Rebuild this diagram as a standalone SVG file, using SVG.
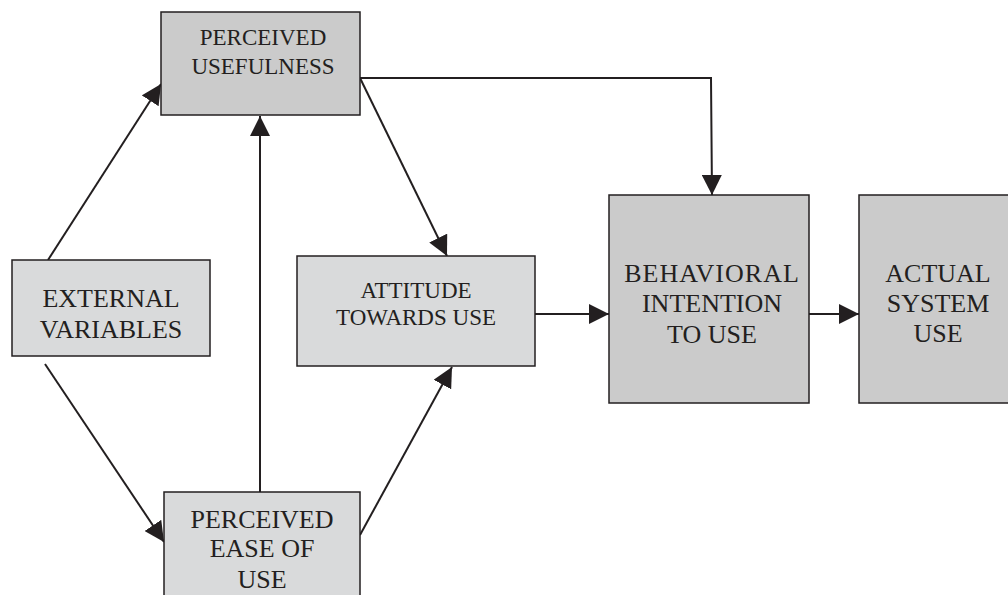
<svg xmlns="http://www.w3.org/2000/svg" width="1008" height="595" viewBox="0 0 1008 595">
  <style>
    .dark { fill: #cbcbcb; stroke: #231f20; stroke-width: 1.5; }
    .light { fill: #d9dadb; stroke: #231f20; stroke-width: 1.5; }
    .lbl { font-family: 'Liberation Serif', 'DejaVu Serif', serif; fill: #231f20; text-anchor: middle; }
    .s23 { font-size: 23px; }
    .s26 { font-size: 26px; }
    .conn { fill: none; stroke: #231f20; stroke-width: 2; marker-end: url(#arrow); }
  </style>
  <defs>
    <marker id="arrow" viewBox="0 0 20 20" markerWidth="20" markerHeight="20" markerUnits="userSpaceOnUse" refX="20" refY="10" orient="auto">
      <path d="M0,0 L20,10 L0,20 z" fill="#231f20"/>
    </marker>
  </defs>
  <rect width="1008" height="595" fill="#ffffff"/>

  <g id="connectors">
    <line class="conn" x1="48" y1="260" x2="161" y2="84"/>
    <line class="conn" x1="45" y1="364" x2="164" y2="542"/>
    <line class="conn" x1="260" y1="492" x2="260" y2="116"/>
    <line class="conn" x1="360" y1="535" x2="452" y2="367"/>
    <line class="conn" x1="360" y1="78" x2="447" y2="256"/>
    <polyline class="conn" points="360,78 711,78 712,195"/>
    <line class="conn" x1="535" y1="314" x2="609" y2="314"/>
    <line class="conn" x1="809" y1="314" x2="859" y2="314"/>
  </g>

  <g id="perceived-usefulness">
    <rect class="dark" x="161" y="12" width="199" height="103"/>
    <text class="lbl s23" x="263" y="45">PERCEIVED</text>
    <text class="lbl s23" x="263" y="74">USEFULNESS</text>
  </g>

  <g id="external-variables">
    <rect class="light" x="12" y="260" width="198" height="96"/>
    <text class="lbl s26" x="111" y="307">EXTERNAL</text>
    <text class="lbl s26" x="111" y="338">VARIABLES</text>
  </g>

  <g id="attitude">
    <rect class="light" x="297" y="256" width="238" height="110"/>
    <text class="lbl s23" x="416" y="298">ATTITUDE</text>
    <text class="lbl s23" x="416" y="325">TOWARDS USE</text>
  </g>

  <g id="perceived-ease-of-use">
    <rect class="light" x="164" y="492" width="196" height="110"/>
    <text class="lbl s26" x="262" y="528">PERCEIVED</text>
    <text class="lbl s26" x="262" y="557">EASE OF</text>
    <text class="lbl s26" x="262" y="588">USE</text>
  </g>

  <g id="behavioral-intention">
    <rect class="dark" x="609" y="195" width="200" height="208"/>
    <text class="lbl s26" x="712" y="282" letter-spacing="1">BEHAVIORAL</text>
    <text class="lbl s26" x="712" y="312">INTENTION</text>
    <text class="lbl s26" x="712" y="343">TO USE</text>
  </g>

  <g id="actual-system-use">
    <rect class="dark" x="859" y="195" width="160" height="208"/>
    <text class="lbl s26" x="938" y="282">ACTUAL</text>
    <text class="lbl s26" x="938" y="312">SYSTEM</text>
    <text class="lbl s26" x="938" y="342">USE</text>
  </g>
</svg>
